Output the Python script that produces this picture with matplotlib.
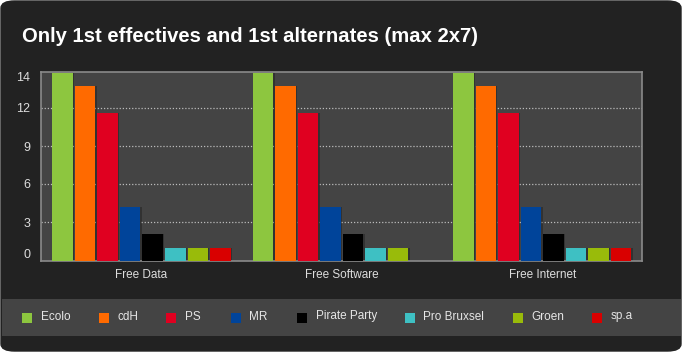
import numpy as np
import matplotlib.pyplot as plt
from matplotlib.patches import FancyBboxPatch, Rectangle

plt.rcParams["font.family"] = ["Liberation Sans", "DejaVu Sans"]

# data
categories = ["Free Data", "Free Software", "Free Internet"]
parties = ["Ecolo", "cdH", "PS", "MR", "Pirate Party", "Pro Bruxsel", "Groen", "sp.a"]
colors = ["#8dc63f", "#ff6a00", "#e00020", "#00449a", "#000000", "#3ec0c3", "#99bb0a", "#d90000"]
free_data = [14, 13, 11, 4, 2, 1, 1, 1]
free_software = [14, 13, 11, 4, 2, 1, 1, 0]
free_internet = [14, 13, 11, 4, 2, 1, 1, 1]

tick_vals = [0, 2.9, 5.75, 8.55, 11.4, 14.1]
tick_labels = ["0", "3", "6", "9", "12", "14"]

title = "Only 1st effectives and 1st alternates (max 2x7)"

# setting
W, H = 683, 352
fig = plt.figure(figsize=(W / 100, H / 100), dpi=100)
fig.patch.set_facecolor("white")

panel = FancyBboxPatch((1 / W, 1 / H), 680 / W, 350 / H,
                       boxstyle="round,pad=0,rounding_size=0.02",
                       transform=fig.transFigure, facecolor="#222222",
                       edgecolor="#222222", zorder=-2)
fig.patches.append(panel)

legend_band = Rectangle((2 / W, (H - 336) / H), 679 / W, 37.5 / H,
                        transform=fig.transFigure, facecolor="#444444",
                        edgecolor="none", zorder=-1)
fig.patches.append(legend_band)

fig.text(22 / W, 1 - 36 / H, title, color="white", fontsize=14.6,
         fontweight="bold", va="center", ha="left")

# plot area
left, right, top, bottom = 41.3, 642.3, 71.7, 261
ax = fig.add_axes([left / W, 1 - bottom / H, (right - left) / W, (bottom - top) / H])
ax.set_zorder(2)
ax.set_facecolor("#444444")
for s in ax.spines.values():
    s.set_color("#8a8a8a")
    s.set_linewidth(1.2)

series = np.array([free_data, free_software, free_internet])
n = len(parties)
pitch = 0.1125
bw = 0.1025
x = np.arange(len(categories))

for j in range(n):
    pos = x + (j - (n - 1) / 2) * pitch
    vals = series[:, j]
    ax.bar(pos + 0.007, vals, width=bw, color="#000000", alpha=0.25, zorder=2)
    ax.bar(pos, vals, width=bw, color=colors[j], zorder=3)

ax.set_xlim(-0.5, len(categories) - 0.5)
ax.set_ylim(0, 14.1)

for v in tick_vals[1:-1]:
    ax.axhline(v, color="#bbbbbb", linestyle=(0, (1, 1.5)), linewidth=0.9, zorder=1)

ax.set_yticks(tick_vals)
ax.set_yticklabels(tick_labels)
ylabs = ax.get_yticklabels()
ylabs[0].set_va("bottom")
ylabs[-1].set_va("top")
ax.tick_params(axis="y", length=0, pad=8, labelsize=9, labelcolor="#dddddd")

ax.set_xticks(x)
ax.set_xticklabels(categories)
ax.tick_params(axis="x", length=0, pad=6, labelsize=8.5, labelcolor="#dddddd")

# legend
leg_x = [22, 99, 166, 231, 297, 405, 513, 592]
leg_y = 318
for j in range(n):
    fig.patches.append(Rectangle((leg_x[j] / W, (H - leg_y - 5) / H), 10 / W, 10 / H,
                                 transform=fig.transFigure, facecolor=colors[j],
                                 edgecolor="none", zorder=0))
    fig.text((leg_x[j] + 18.5) / W, 1 - 316.5 / H, parties[j], color="#e6e6e6",
             fontsize=8.5, va="center", ha="left")

fig.savefig("out.png", dpi=100, facecolor=fig.get_facecolor())
